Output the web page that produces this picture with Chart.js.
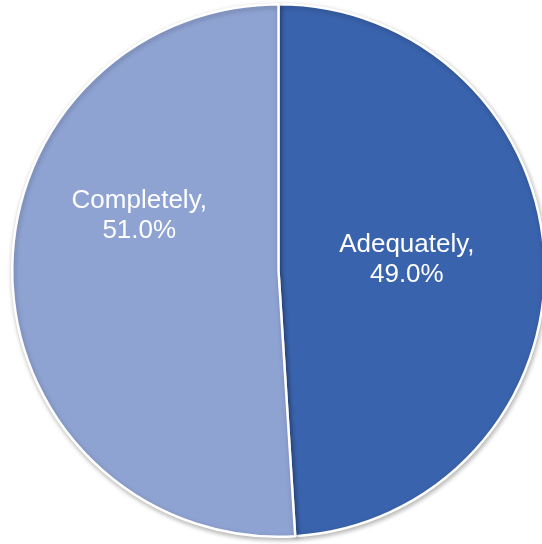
<!DOCTYPE html>
<html>
<head>
<meta charset="utf-8">
<script src="https://cdn.jsdelivr.net/npm/chart.js@4"></script>
<style>
  html, body { margin: 0; padding: 0; background: #fff; overflow: hidden; }
  #wrap { position: relative; width: 557px; height: 544px; }
</style>
</head>
<body>
<div id="wrap"><canvas id="chart"></canvas></div>
<script>
const categories = ['Adequately', 'Completely'];
const shares = [49.0, 51.0];
const COLORS = ['#3A63AD', '#8FA3D3'];

// label anchor per slice, as a fraction of the outer radius (first baseline)
const LABEL_POS = [
  { fx: 0.482, fy: -0.07 },
  { fx: -0.523, fy: -0.235 },
];

const shadowPlugin = {
  id: 'pieShadow',
  beforeDatasetsDraw(chart) {
    const ctx = chart.ctx;
    ctx.save();
    ctx.shadowColor = 'rgba(0,0,0,0.28)';
    ctx.shadowBlur = 5;
    ctx.shadowOffsetX = 1;
    ctx.shadowOffsetY = 2;
  },
  afterDatasetsDraw(chart) {
    chart.ctx.restore();
  },
};

const labelPlugin = {
  id: 'sliceLabels',
  afterDraw(chart) {
    const ctx = chart.ctx;
    const meta = chart.getDatasetMeta(0);
    ctx.save();
    ctx.fillStyle = '#fff';
    ctx.font = '26px "Liberation Sans", Arial, sans-serif';
    ctx.textAlign = 'center';
    ctx.textBaseline = 'alphabetic';
    meta.data.forEach((arc, i) => {
      const r = arc.outerRadius;
      const x = arc.x + LABEL_POS[i].fx * r;
      const y = arc.y + LABEL_POS[i].fy * r;
      ctx.fillText(categories[i] + ',', x, y);
      ctx.fillText(shares[i].toFixed(1) + '%', x, y + 30);
    });
    ctx.restore();
  },
};

new Chart(document.getElementById('chart'), {
  type: 'pie',
  data: {
    labels: categories,
    datasets: [
      {
        data: shares,
        backgroundColor: COLORS,
        borderColor: '#fff',
        borderWidth: 2.5,
      },
    ],
  },
  options: {
    responsive: true,
    maintainAspectRatio: false,
    animation: false,
    layout: { padding: { top: 3, bottom: 6, left: 0, right: 0 } },
    plugins: {
      legend: { display: false },
      tooltip: { enabled: false },
    },
  },
  plugins: [shadowPlugin, labelPlugin],
});
</script>
</body>
</html>
